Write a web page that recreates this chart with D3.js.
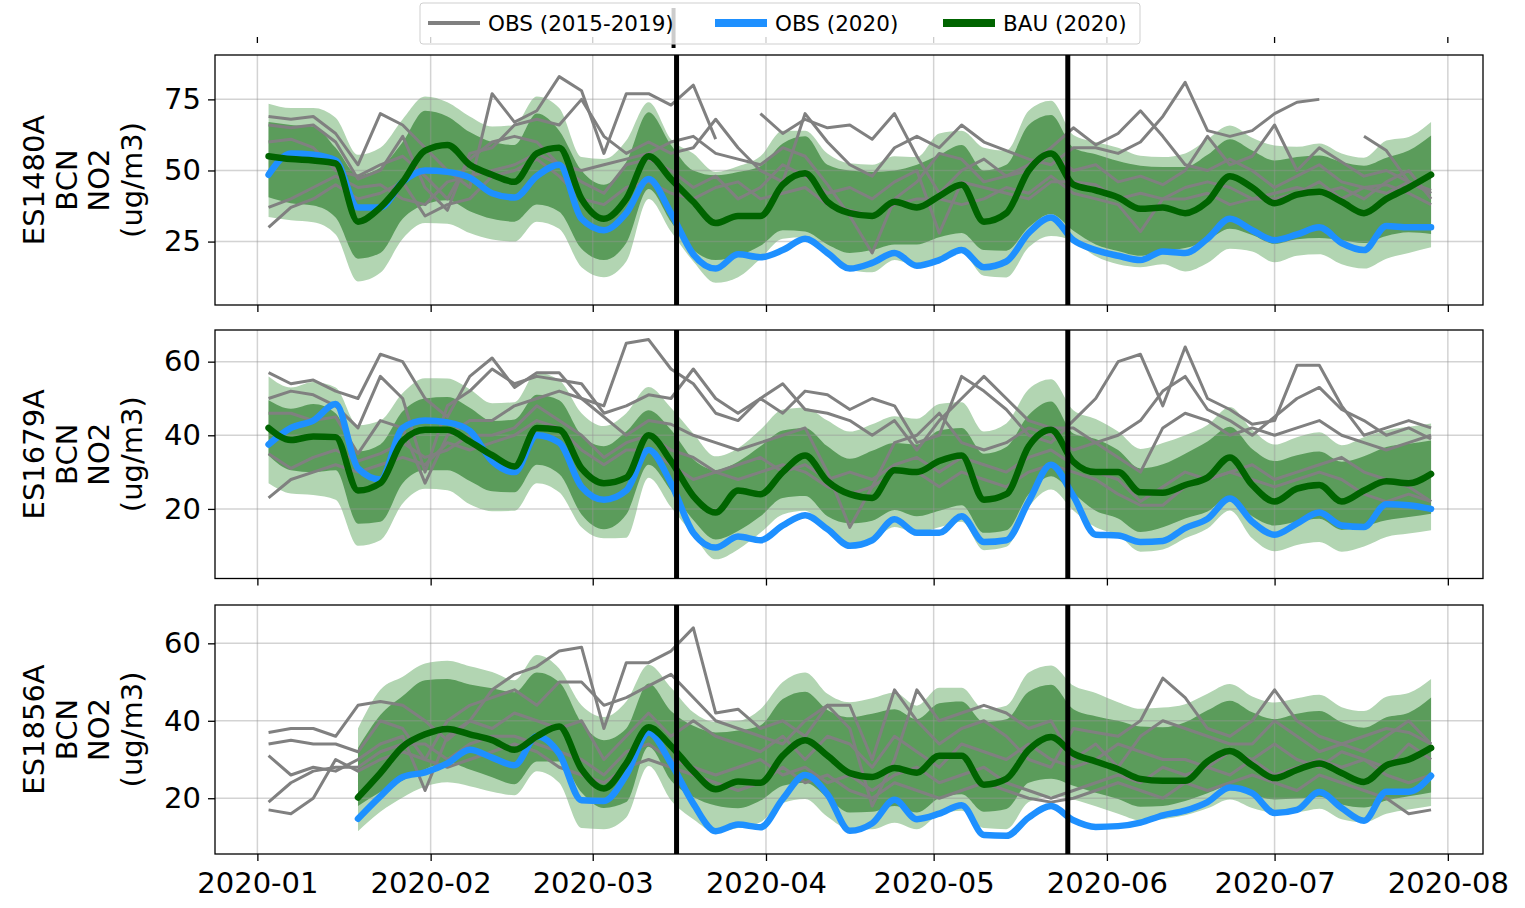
<!DOCTYPE html>
<html>
<head>
<meta charset="utf-8">
<script src="https://cdn.jsdelivr.net/npm/d3@7"></script>
<style>
  body { margin: 0; background: #fff; }
  text { font-family: "DejaVu Sans", sans-serif; }
</style>
</head>
<body>
<div id="chart"></div>
<script>
// sample dates: every 4 days from 2020-01-03
var firstDay = new Date(2020, 0, 3);
var stepDays = 4;
var nPoints = 53;

var stations = ['ES1480A', 'ES1679A', 'ES1856A'];
var legendLabels = ['OBS (2015-2019)', 'OBS (2020)', 'BAU (2020)'];
var lockdownDates = [new Date(2020, 2, 16), new Date(2020, 4, 25)];
var yTicks1 = [25, 50, 75];
var yTicks2 = [20, 40, 60];
var yTicks3 = [20, 40, 60];

// ---- ES1480A ----
var bau1 = [55,54,53.5,52.5,32,37,46,57,59,52,48.5,46,56,58,40,33,40, 55,47,39,31.5,34,34,45,49,39,35,34,39,37,41,45,32,35,50,56, 45,43,40.5,36.5,37,35,39,48,44,38.5,41.5,42.5,39,35,40,44,48.5];
var obs1 = [48.5,56,55.5,53.5,37,37,46,50,49.5,47.5,42,40.5,48,52,33,29,35, 47,35,20.5,15.5,20.5,19.5,22,26,21,15.5,17.5,21,16.5,18.5,22,16,18,28,33.5, 25.5,22,20,18.5,21.5,21,26,33,29,25.5,27.5,30,24.5,22,30.5,30,30];
var outerHi1 = [73.5,72,72,68.5,55.5,58,68,76,74,69,65.5,66,76,72,54.7,54,60.5, 74,61,56,49.5,51.5,55,64,64,56,52.5,52,55,54.7,63,64,58,57,71,74.5, 62.5,60,58,55.2,54.7,56,61,65.8,61.5,58.8,58.3,59.5,56,54.5,60.5,61.8,67];
var innerHi1 = [67,66,65.5,58,48.5,51,60,71,69,63.5,60,59,70,64,50,45,53, 70.5,59,50,48.3,49.5,51.5,59.5,62,52,50,49.5,50,52,55.5,59,50,52,66,69.5, 58,55.7,53.3,51.7,51.2,51.2,55.5,61,57,53.5,54.7,55.3,53,51.7,54.5,57,62.3];
var innerLo1 = [40.6,38.5,37.7,33.5,19,21,33,38,39.5,35.7,33,32,38,35.5,22.5,18.5,24.5, 43.5,32,22,18.5,20,23.5,29,28.5,24,21,22,24,24,26.5,28,22,21.8,30,34.7, 28.8,24,21.7,20,21.8,22.7,25.5,29.5,27.3,24.2,25.8,26.3,25.5,24.5,27,28.3,27.7];
var outerLo1 = [33.6,32.5,31.8,27.5,11,14,26,31.5,31.3,28,25.7,25,32,29.5,16,12.5,18, 40,28.5,18,10.5,12.5,19,26,26.5,21,15,14.2,18.5,16.5,18.5,21,13,12.4,23,27, 25.2,19.8,17,16,17,14.5,17.5,22.5,21.5,17.7,20,20.5,17,15.5,19,21,23];
var hist1a = [69,68,69,63,52,70,66,58,50,44,77,67,71,83,78,56,77, 77,73,80,61,null,70,63,68,65,66,61,70,55,42,50,54,48,52,58, 65,59,63,71,62,52,50,54,50,44,48,52,46,44,42,46,43];
var hist1b = [66,65,66,60,47,50,62,44,36,56,58,66,68,66,75,62,56, 60,56,58,68,58,50,46,70,60,52,48,58,62,58,66,60,57,54,52, 58,58,56,60,69,81,64,62,64,70,74,75,null,62,57,46,42];
var hist1c = [60,61,58,50,48,52,55,48,40,54,60,62,60,52,50,52,54, 56,60,62,56,54,52,58,55,45,34,21,40,46,56,54,46,48,50,56, 50,52,46,48,45,50,62,52,55,66,50,58,53,48,50,46,42];
var hist1d = [37,40,44,48,44,45,40,38,46,48,50,52,56,52,46,42,52, 54,50,44,48,40,44,52,48,42,44,40,46,50,28,46,44,42,40,46, 46,45,40,42,40,44,46,44,40,42,44,42,44,40,46,50,40];
var hist1e = [30,37,40,45,40,42,46,34,38,40,48,50,54,48,40,38,44, 46,42,40,44,46,40,42,44,38,36,34,38,40,40,38,40,44,42,48, 42,40,38,28.5,40,40,42,38,40,40,42,46,40,44,45,42,38];

// ---- ES1679A ----
var bau2 = [42,38.7,39.7,39.5,25,27,38.5,41.5,41.5,38.3,34.6,31.5,42,41.5,31,27,28.5, 40,33,23.5,19,25,24,30,34.5,27.5,24,23,30.5,30,33,34.5,22.5,24,37,41.5, 32.8,30,30,24.5,24.4,26.5,28.5,34,26.5,22,25.5,26.5,22,25,27.5,27,29.5];
var obs2 = [37.5,42,44,48.5,31,28,42,44,43.5,41.2,33,30,40,38,26,22.5,25, 36,27,13.5,9.5,12.5,11.5,15.5,18.3,14.5,10,11.5,17.2,13.5,13.5,18,11,11.5,22,32, 23.5,13,12.8,11,11.3,14.8,17.3,22.8,16.5,13,16,19,15.5,15.1,21.3,21,20];
var outerHi2 = [56,53,54.5,53,42.7,44,51.5,55.5,55.4,52.5,48.7,49,57,55,46,42.5,46, 53.1,47.5,40.5,34.3,36.5,41.5,47,47.5,44,41,43,45.2,44.5,48.5,49,41,43.2,52.5,55.2, 46.8,44.4,41,36.3,37.9,40,42.8,47.7,41.5,37.5,39.5,40.8,37.3,39.5,41.4,42.3,43.2];
var innerHi2 = [49.5,47.2,48.5,46,35.6,37.5,46.5,50,50.4,47.5,43.9,44.3,51,49.5,40,37,41, 46.8,41.5,33.5,30.6,32.8,37,41.3,42,37,33.6,35.8,37.9,37.5,41.3,42,35,36.8,45.5,49.2, 40.5,39,36,31,32.1,35,38.3,42.3,36.3,33,34.6,35.6,32.8,34.3,36.8,37.7,38.6];
var innerLo2 = [34.5,30.5,30,30.5,16,16.5,27,30.5,30.5,27.6,24.8,24.5,32,29.5,18.5,14.5,18.5, 32,25,17,11.7,14,18,23,23.5,18,16.1,16.8,19.7,18,19.5,21,13.5,14.2,24,28.9, 24.2,19.5,17.4,13.7,15,17.4,19.3,23.3,18,15.5,16.5,17.3,14.3,15.3,16.9,17.8,18.7];
var outerLo2 = [27,24.2,23.8,22.5,10,11.5,21.5,25.5,25.1,21.3,19.4,19.5,27,24.5,15,12,12.2, 28.5,20.5,13,6.3,9,13.5,18.5,19.5,14,10,11.4,15.1,13.5,15,16.5,8.8,9.7,20.5,25.3, 19.6,15,12.9,8.4,9,12,14.7,19.6,12,8.5,10.2,11,8.4,9.8,12.4,13.3,14.2];
var hist2a = [57,54,55,52,50,62,60,50,45,56,61,53,57,57,50,48,65, 66,58,54,46,44,50,46,52,51,47,50,48,38,40,56,52,47,40,38, 44,50,60,62,48,64,50,47,43,44,59,59,48,40,42,44,42];
var hist2b = [50,52,51,48,42,56,50,30,48,52,58,54,56,55,54,46,48, 51,50,58,50,46,50,54,47,46,44,40,44,36,44,50,56,50,44,42, 42,38,40,44,52,56,47,44,40,45,50,53,47,44,40,42,39];
var hist2c = [46,46,44,45,35,44,42,27,40,44,44,48,50,52,50,45,40, 44,43,40,38,36,38,40,42,30,15,26,38,40,46,38,36,38,42,40, 36,38,34,30,42,46,44,40,42,40,42,44,40,38,36,38,40];
var hist2d = [35,31,34,36,33,35,38,34,36,40,40,42,48,44,40,34,38, 40,36,34,30,32,34,30,32,28,30,28,32,34,30,34,32,30,34,36, 32,30,28,22,26,30,28,30,32,28,30,32,34,30,28,26,22];
var hist2e = [23,28,30,32,30,32,34,32,38,36,38,40,44,42,36,32,36, 36,32,28,30,28,30,32,30,26,24,26,30,30,26,30,28,26,30,32, 30,28,24,21,21,26,28,30,28,26,28,30,28,24,22,24,22];

// ---- ES1856A ----
var bau3 = [null,null,null,null,20.2,26.5,33.3,36.5,37.9,36.5,35,32.5,36,38.5,27.5,22.5,29, 38.3,33.5,27,22.3,24.3,24,31,35,31,26.5,25.5,27.8,26.6,31,31,23.5,25,32.5,35.8, 31.5,29.5,27.5,25,24.5,24.5,29.5,32.2,28.5,25.2,27.3,29,26.5,24.2,28.5,30,33];
var obs3 = [null,null,null,null,14.7,20.5,25.5,26.7,29,32.5,30.5,28.5,36,31.5,19.5,19.3,26, 37,29,18.6,11.5,13.2,12.5,19.8,26,21,11.6,13.5,19.6,14.6,16,18.2,10.5,10.3,15,18, 14.3,12.6,12.8,13.7,15.6,16.8,19,22.8,21.3,16.2,17,21.6,17.5,14.2,21.7,21.7,25.8];
var outerHi3 = [null,null,null,null,38,48,51.4,54.8,55.5,54.1,52.6,50.5,57,53.5,44,41,45, 54.5,48.6,42.2,39.7,40,43,50,52.5,47,44.8,45.8,47.3,43.9,48.5,48.5,43,43.9,52.5,54.3, 49.1,47.2,44.8,43.1,43.4,44.3,47,49.5,46.3,44.7,45.8,46.7,43.5,42.5,46.2,47.2,50.8];
var innerHi3 = [null,null,null,null,33,41.5,46.4,50.5,50.8,49.4,48.4,47.4,52.5,50,39.5,35,38, 49.6,42.5,38.7,37,37.5,38.8,45.6,47.5,42.8,40.9,41.8,43,40.4,44.5,45,39.7,40.4,47.5,49.3, 43,41.2,40,38.5,38.3,39.6,42.7,45.2,42.2,40.4,41.8,42.5,39.6,38.2,40.9,42.1,46];
var innerLo3 = [null,null,null,null,18,21.6,24.6,27.5,29.2,27.4,25.4,23.6,29.5,29.5,21.5,17.5,19, 33.3,24.6,20.3,18.1,17.4,19.4,23.2,24,20.2,16.3,16.5,18,16.3,20,21,16.5,17.2,24,25, 23.2,21.4,19.8,17.8,18,19.3,21.3,23.2,20.9,19.7,19.9,20.4,18.4,17.6,19.4,20.5,21.5];
var outerLo3 = [null,null,null,null,11.5,16.5,20.2,23,24.1,23.1,21.7,20.8,27,24,12.3,12,15, 28.3,19.5,14.6,11.3,12.3,13.8,18.8,19.8,15.2,12,12,13.7,12,15.8,16.8,12.3,12,19,20.6, 19.7,17.9,16,14.3,14.6,15.6,17.4,19.7,17.5,16.3,16.4,17.3,14.6,13.8,16,17.1,18];
var hist3a = [37,38,38,36,44,45,44,40,35,40,48,52,54,58,59,38,55, 55,58,64,42,43,38,40,36,44,44,30,48,40,34,38,40,36,30,28, 38,37,36,40,51,46,38,36,40,48,40,36,34,32,36,40,34];
var hist3b = [34,35,34,34,32,40,38,30,40,44,46,48,44,50,50,44,46, 49,52,46,40,38,36,34,40,44,38,18,30,48,40,42,44,42,38,40, 30,34,28,36,40,38,36,34,34,40,36,32,34,36,38,37,34];
var hist3c = [31,26,28,27,30,34,36,22,36,40,38,42,40,38,40,30,36, 42,36,40,36,34,32,36,30,36,34,28,36,32,28,34,32,30,34,30, 28,30,34,32,30,30,28,32,30,34,30,28,32,30,28,34,30];
var hist3d = [19,24,27,28,28,32,34,34,30,34,36,36,34,32,30,26,32, 34,30,28,26,28,30,26,28,24,26,22,26,28,24,26,28,24,22,20, 22,24,26,24,28,26,28,26,30,26,28,30,28,30,26,24,26];
var hist3e = [17,16,20,30,27,30,32,30,28,30,32,34,32,28,26,24,28, 30,28,26,24,22,24,28,24,26,22,20,24,22,20,22,24,22,20,19, 20,22,24,22,20,24,22,24,26,24,22,26,24,22,20,16,17];

var dates = d3.range(nPoints).map(function(i) { return d3.timeDay.offset(firstDay, stepDays * i); });

var panels = [
  { top: 55, bottom: 305, domain: [2.7, 90.6], ticks: yTicks1, bau: bau1, obs: obs1,
    oh: outerHi1, ih: innerHi1, il: innerLo1, ol: outerLo1, hist: [hist1a, hist1b, hist1c, hist1d, hist1e] },
  { top: 330, bottom: 578.5, domain: [1.1, 68.6], ticks: yTicks2, bau: bau2, obs: obs2,
    oh: outerHi2, ih: innerHi2, il: innerLo2, ol: outerLo2, hist: [hist2a, hist2b, hist2c, hist2d, hist2e] },
  { top: 605, bottom: 854, domain: [5.6, 69.9], ticks: yTicks3, bau: bau3, obs: obs3,
    oh: outerHi3, ih: innerHi3, il: innerLo3, ol: outerLo3, hist: [hist3a, hist3b, hist3c, hist3d, hist3e] }
];

var W = 1525, H = 908, left = 215, right = 1483;

var svg = d3.select('#chart').append('svg')
  .attr('width', W).attr('height', H);

var x = d3.scaleTime()
  .domain([new Date(2019, 11, 24, 10), new Date(2020, 7, 7, 7)])
  .range([left, right]);
var monthTicks = d3.timeMonth.range(new Date(2020, 0, 1), new Date(2020, 7, 2));

// small ticks of the strip above the first panel
svg.selectAll('.topTick').data(monthTicks).enter().append('line')
  .attr('x1', d => x(d)).attr('x2', d => x(d))
  .attr('y1', 37).attr('y2', 43)
  .attr('stroke', '#000').attr('stroke-width', 1.3);
svg.append('line')
  .attr('x1', x(lockdownDates[0]) - 3).attr('x2', x(lockdownDates[0]) - 3)
  .attr('y1', 8).attr('y2', 48)
  .attr('stroke', '#000').attr('stroke-width', 4);

panels.forEach(function(p, k) {
  var y = d3.scaleLinear().domain(p.domain).range([p.bottom, p.top]);
  var g = svg.append('g');

  var clipId = 'clip' + k;
  svg.append('clipPath').attr('id', clipId).append('rect')
    .attr('x', left).attr('y', p.top).attr('width', right - left).attr('height', p.bottom - p.top);
  var plot = g.append('g').attr('clip-path', 'url(#' + clipId + ')');

  // bands
  var band = function(lo, hi) {
    return d3.area()
      .defined((d, i) => lo[i] != null && hi[i] != null)
      .x((d, i) => x(dates[i]))
      .y0((d, i) => y(lo[i]))
      .y1((d, i) => y(hi[i]))
      .curve(d3.curveMonotoneX);
  };
  plot.append('path').datum(dates).attr('d', band(p.ol, p.oh)).attr('fill', '#b2d5b2');
  plot.append('path').datum(dates).attr('d', band(p.il, p.ih)).attr('fill', '#5b9c5b');

  // grid
  plot.selectAll('.gx').data(monthTicks).enter().append('line')
    .attr('x1', d => x(d)).attr('x2', d => x(d))
    .attr('y1', p.top).attr('y2', p.bottom)
    .attr('stroke', 'rgba(150,150,150,0.42)').attr('stroke-width', 1.5);
  plot.selectAll('.gy').data(p.ticks).enter().append('line')
    .attr('x1', left).attr('x2', right)
    .attr('y1', d => y(d)).attr('y2', d => y(d))
    .attr('stroke', 'rgba(150,150,150,0.42)').attr('stroke-width', 1.5);

  // past years
  var histLine = d3.line()
    .defined(d => d.v != null)
    .x(d => x(d.date)).y(d => y(d.v));
  p.hist.forEach(function(s) {
    plot.append('path')
      .datum(s.map((v, i) => ({ date: dates[i], v: v })))
      .attr('d', histLine)
      .attr('fill', 'none').attr('stroke', '#808080')
      .attr('stroke-width', 3).attr('stroke-linejoin', 'round');
  });

  var smooth = d3.line()
    .defined(d => d.v != null)
    .x(d => x(d.date)).y(d => y(d.v))
    .curve(d3.curveMonotoneX);
  plot.append('path')
    .datum(p.obs.map((v, i) => ({ date: dates[i], v: v })))
    .attr('d', smooth)
    .attr('fill', 'none').attr('stroke', '#1e90ff')
    .attr('stroke-width', 6.5).attr('stroke-linejoin', 'round').attr('stroke-linecap', 'round');
  plot.append('path')
    .datum(p.bau.map((v, i) => ({ date: dates[i], v: v })))
    .attr('d', smooth)
    .attr('fill', 'none').attr('stroke', '#006400')
    .attr('stroke-width', 6.5).attr('stroke-linejoin', 'round').attr('stroke-linecap', 'round');

  // lockdown phases
  plot.selectAll('.lock').data(lockdownDates).enter().append('line')
    .attr('x1', d => x(d)).attr('x2', d => x(d))
    .attr('y1', p.top).attr('y2', p.bottom)
    .attr('stroke', '#000').attr('stroke-width', 5);

  // frame
  g.append('rect')
    .attr('x', left).attr('y', p.top).attr('width', right - left).attr('height', p.bottom - p.top)
    .attr('fill', 'none').attr('stroke', '#000').attr('stroke-width', 1.3);

  // y axis
  var yAxis = d3.axisLeft(y).tickValues(p.ticks).tickSize(7).tickPadding(7);
  var ya = g.append('g').attr('transform', 'translate(' + left + ',0)').call(yAxis);
  ya.select('.domain').remove();
  ya.selectAll('line').attr('stroke-width', 1.3);
  ya.selectAll('text').attr('font-size', 29).attr('font-family', 'DejaVu Sans').attr('fill', '#000');

  // x axis
  var xAxis = d3.axisBottom(x).tickValues(monthTicks).tickSize(7).tickPadding(11)
    .tickFormat(k === 2 ? d3.timeFormat('%Y-%m') : '');
  var xa = g.append('g').attr('transform', 'translate(0,' + p.bottom + ')').call(xAxis);
  xa.select('.domain').remove();
  xa.selectAll('line').attr('stroke-width', 1.3);
  xa.selectAll('text').attr('font-size', 29).attr('font-family', 'DejaVu Sans').attr('fill', '#000');

  // y label, four lines
  var cy = (p.top + p.bottom) / 2;
  [stations[k], 'BCN', 'NO2', '(ug/m3)'].forEach(function(t, j) {
    g.append('text')
      .attr('transform', 'translate(' + (44 + 32.5 * j) + ',' + cy + ') rotate(-90)')
      .attr('text-anchor', 'middle')
      .attr('font-size', 29)
      .text(t);
  });
});

// legend
var legend = svg.append('g');
legend.append('rect')
  .attr('x', 420).attr('y', 3).attr('width', 720).attr('height', 41).attr('rx', 3)
  .attr('fill', 'rgba(255,255,255,0.8)').attr('stroke', '#cfcfcf').attr('stroke-width', 1);
var legendItems = [
  { label: legendLabels[0], color: '#808080', w: 4, x0: 428 },
  { label: legendLabels[1], color: '#1e90ff', w: 8, x0: 715 },
  { label: legendLabels[2], color: '#006400', w: 8, x0: 943 }
];
legendItems.forEach(function(d) {
  legend.append('line')
    .attr('x1', d.x0).attr('x2', d.x0 + 52).attr('y1', 23).attr('y2', 23)
    .attr('stroke', d.color).attr('stroke-width', d.w);
  legend.append('text')
    .attr('x', d.x0 + 60).attr('y', 31)
    .attr('font-size', 21.5)
    .text(d.label);
});
</script>
</body>
</html>
